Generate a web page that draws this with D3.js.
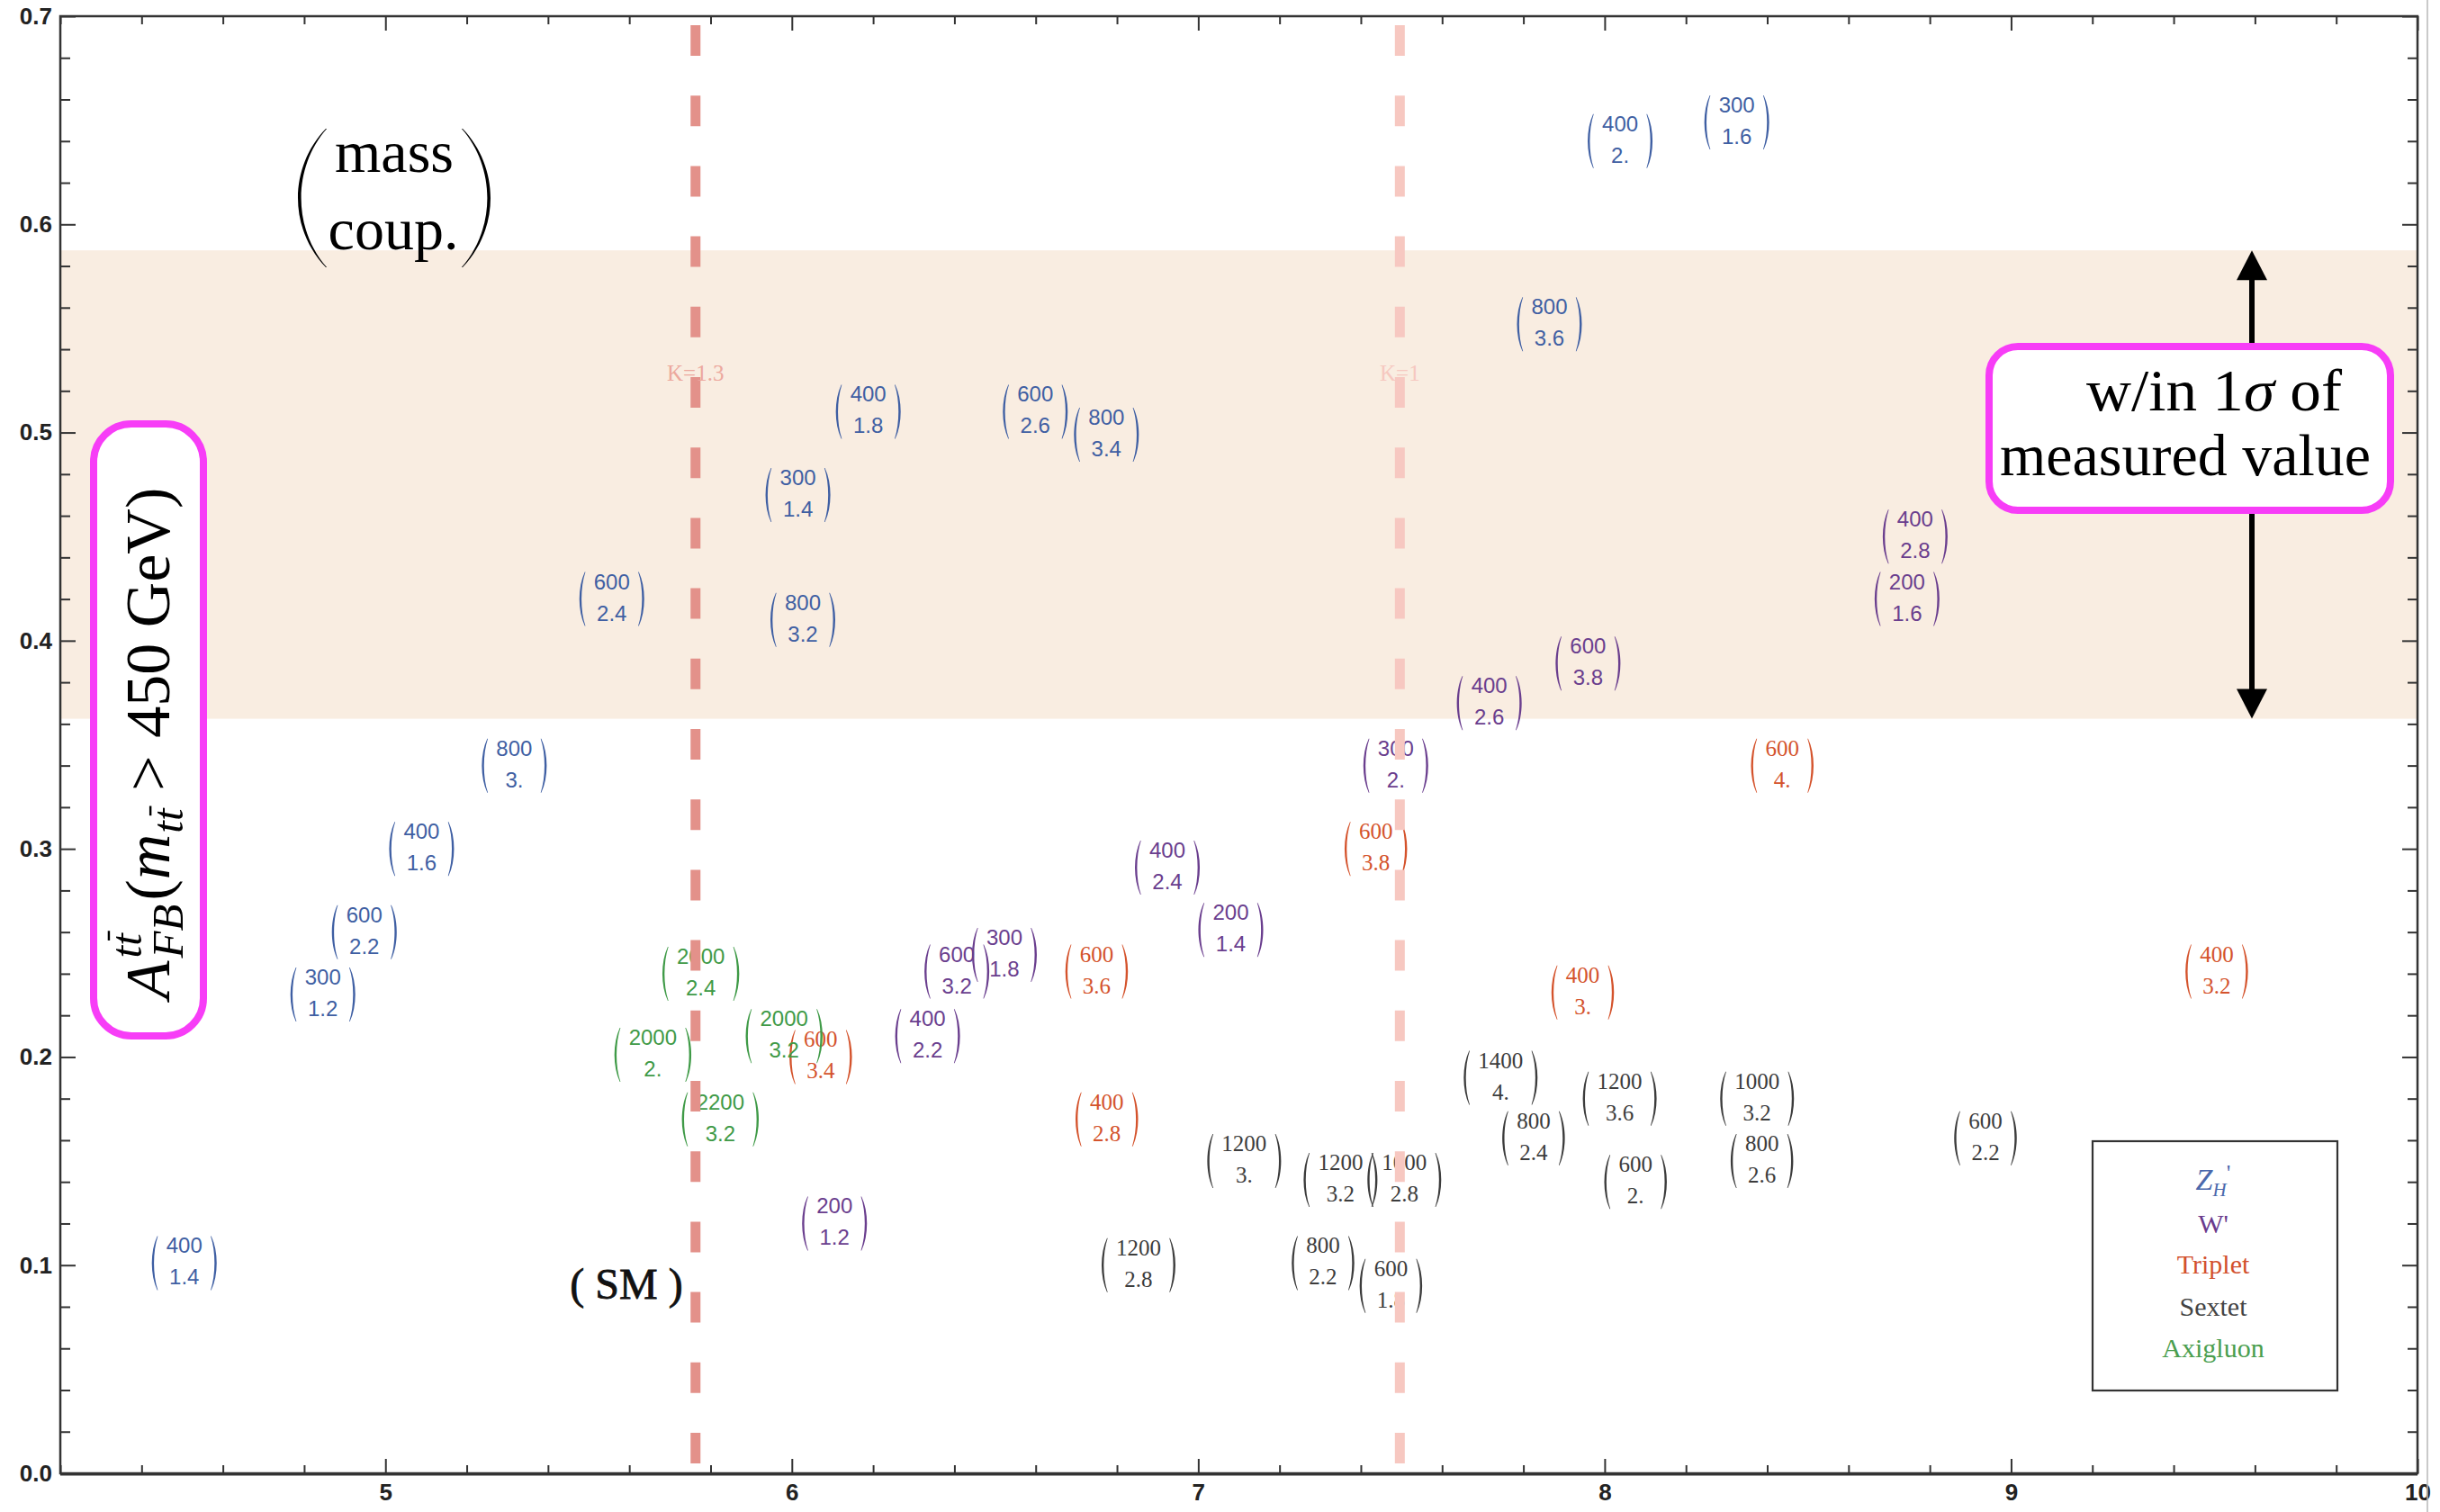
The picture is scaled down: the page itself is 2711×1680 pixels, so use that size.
<!DOCTYPE html>
<html><head><meta charset="utf-8">
<script src="https://cdn.jsdelivr.net/npm/d3@7/dist/d3.min.js"></script>
<style>body{margin:0;background:#fff}svg{display:block}</style>
</head><body>
<svg id="chart" width="2711" height="1680"></svg>
<script>
// ---------------- data ----------------
const categories = ["Z_H'", "W'", "Triplet", "Sextet", "Axigluon"];

// Z_H'
const zhMass = [400, 300, 800, 400, 600, 800, 300, 600, 800, 800, 400, 600, 300, 400];
const zhCoup = ["2.", "1.6", "3.6", "1.8", "2.6", "3.4", "1.4", "2.4", "3.2", "3.", "1.6", "2.2", "1.2", "1.4"];
const zhX = [8.038, 8.325, 7.864, 6.188, 6.599, 6.774, 6.015, 5.557, 6.027, 5.317, 5.089, 4.948, 4.846, 4.505];
const zhY = [0.640, 0.649, 0.552, 0.510, 0.510, 0.499, 0.470, 0.420, 0.410, 0.340, 0.300, 0.260, 0.230, 0.101];

// W'
const wMass = [400, 200, 600, 400, 300, 400, 200, 300, 600, 400, 200];
const wCoup = ["2.8", "1.6", "3.8", "2.6", "2.", "2.4", "1.4", "1.8", "3.2", "2.2", "1.2"];
const wX = [8.764, 8.744, 7.959, 7.716, 7.486, 6.924, 7.080, 6.523, 6.406, 6.334, 6.105];
const wY = [0.450, 0.420, 0.389, 0.370, 0.340, 0.291, 0.261, 0.249, 0.241, 0.210, 0.120];

// Triplet
const tMass = [600, 600, 600, 400, 400, 600, 400];
const tCoup = ["4.", "3.8", "3.6", "3.", "3.2", "3.4", "2.8"];
const tX = [8.437, 7.437, 6.750, 7.946, 9.506, 6.071, 6.775];
const tY = [0.340, 0.300, 0.241, 0.231, 0.241, 0.200, 0.170];

// Sextet
const sMass = [1400, 1200, 1000, 800, 600, 800, 600, 1200, 1200, 1000, 1200, 800, 600];
const sCoup = ["4.", "3.6", "3.2", "2.4", "2.2", "2.6", "2.", "3.", "3.2", "2.8", "2.8", "2.2", "1.8"];
const sX = [7.744, 8.037, 8.375, 7.825, 8.937, 8.387, 8.076, 7.113, 7.350, 7.507, 6.853, 7.307, 7.474];
const sY = [0.190, 0.180, 0.180, 0.161, 0.161, 0.150, 0.140, 0.150, 0.141, 0.141, 0.100, 0.101, 0.090];

// Axigluon
const aMass = [2000, 2000, 2000, 2200];
const aCoup = ["2.4", "2.", "3.2", "3.2"];
const aX = [5.776, 5.658, 5.981, 5.824];
const aY = [0.240, 0.201, 0.210, 0.170];

// band (within 1 sigma of measured value) and K-factor lines
const bandLow = 0.3625, bandHigh = 0.5875;
const kLineX = [5.763, 7.496];
const kLabels = ["K=1.3", "K=1"];
const kLabelY = 0.525;

// ticks
const xMajorTicks = [5, 6, 7, 8, 9, 10];
const xTickLabels = ["5", "6", "7", "8", "9", "10"];
const yMajorTicks = [0, 0.1, 0.2, 0.3, 0.4, 0.5, 0.6, 0.7];
const yTickLabels = ["0.0", "0.1", "0.2", "0.3", "0.4", "0.5", "0.6", "0.7"];

// ---------------- setup ----------------
const svg = d3.select("#chart");
const x = d3.scaleLinear().domain([4.2, 10]).range([67, 2686]);
const y = d3.scaleLinear().domain([0, 0.7]).range([1637, 18]);

const SERIF = "'Liberation Serif','Times New Roman',serif";
const SANS = "'Liberation Sans',Arial,sans-serif";

const seriesList = [
  {name: categories[0], mass: zhMass, coup: zhCoup, xs: zhX, ys: zhY, color: "#3f5fa3", font: SANS, size: 24},
  {name: categories[1], mass: wMass, coup: wCoup, xs: wX, ys: wY, color: "#6a3e8e", font: SANS, size: 24},
  {name: categories[2], mass: tMass, coup: tCoup, xs: tX, ys: tY, color: "#d4532c", font: SERIF, size: 25},
  {name: categories[3], mass: sMass, coup: sCoup, xs: sX, ys: sY, color: "#3c3c3c", font: SERIF, size: 25},
  {name: categories[4], mass: aMass, coup: aCoup, xs: aX, ys: aY, color: "#3f9a47", font: SANS, size: 24}
];

// crescent-shaped parenthesis path
function parenPath(xEnd, xMid, yTop, yBot, t, dir) {
  const h = yBot - yTop;
  const c1 = (xMid - 0.25 * xEnd) / 0.75;
  const xMidIn = xMid + dir * t;
  const xEndIn = xEnd + dir * t * 0.3;
  const c2 = (xMidIn - 0.25 * xEndIn) / 0.75;
  return `M${xEnd},${yTop} C${c1},${yTop + h * 0.28} ${c1},${yBot - h * 0.28} ${xEnd},${yBot} ` +
         `L${xEndIn},${yBot} C${c2},${yBot - h * 0.28} ${c2},${yTop + h * 0.28} ${xEndIn},${yTop} Z`;
}

// ---------------- band ----------------
svg.append("rect")
  .attr("x", x(4.2)).attr("width", x(10) - x(4.2))
  .attr("y", y(bandHigh)).attr("height", y(bandLow) - y(bandHigh))
  .attr("fill", "#f9ede1");

// ---------------- point labels (matrices) ----------------
seriesList.forEach(s => {
  const pts = s.mass.map((m, i) => ({m: String(m), c: s.coup[i], px: s.xs[i], py: s.ys[i]}));
  const g = svg.append("g").attr("class", "series");
  const lab = g.selectAll("g").data(pts).join("g")
    .attr("transform", d => `translate(${x(d.px)},${y(d.py)})`);
  lab.each(function(d) {
    const el = d3.select(this);
    const t1 = el.append("text").attr("y", -11).attr("text-anchor", "middle")
      .attr("font-family", s.font).attr("font-size", s.size).attr("fill", s.color).text(d.m);
    const t2 = el.append("text").attr("y", 24).attr("text-anchor", "middle")
      .attr("font-family", s.font).attr("font-size", s.size).attr("fill", s.color).text(d.c);
    const w = Math.max(t1.node().getComputedTextLength(), t2.node().getComputedTextLength());
    const off = w / 2 + 16;
    el.append("path").attr("d", parenPath(-off + 6, -off, -30, 30, 2.4, 1)).attr("fill", s.color);
    el.append("path").attr("d", parenPath(off - 6, off, -30, 30, 2.4, -1)).attr("fill", s.color);
  });
});

// ---------------- K lines ----------------
const kColors = ["#e3918a", "#f7c8c1"];
const kTextColors = ["#eca89e", "#f6c8c0"];
kLineX.forEach((kx, i) => {
  svg.append("line")
    .attr("x1", x(kx)).attr("x2", x(kx)).attr("y1", 28).attr("y2", y(0))
    .attr("stroke", kColors[i]).attr("stroke-width", 11)
    .attr("stroke-dasharray", "34,44.2");
  svg.append("text")
    .attr("x", x(kx)).attr("y", y(kLabelY)).attr("text-anchor", "middle")
    .attr("font-family", SERIF).attr("font-size", 25).attr("fill", kTextColors[i])
    .text(kLabels[i]);
});

// ---------------- axes ----------------
const xMinor = d3.range(21, 51).map(i => +(i / 5).toFixed(1)).filter(v => !xMajorTicks.includes(v));
const yMinor = d3.range(0, 36).map(i => +(i * 0.02).toFixed(2)).filter(v => Math.abs(v * 10 - Math.round(v * 10)) > 1e-6);

function styleAxis(g) {
  g.select(".domain").remove();
  g.selectAll(".tick line").attr("stroke", "#333").attr("stroke-width", 2);
  g.selectAll(".tick text").attr("font-family", SANS).attr("font-weight", "bold")
    .attr("font-size", 26).attr("fill", "#222");
}
const fmtX = d => xTickLabels[xMajorTicks.indexOf(d)];
const fmtY = d => yTickLabels[yMajorTicks.findIndex(v => Math.abs(v - d) < 1e-9)];

svg.append("g").attr("transform", `translate(0,${y(0)})`)
  .call(d3.axisBottom(x).tickValues(xMinor).tickSize(-9).tickFormat("")).call(styleAxis);
svg.append("g").attr("transform", `translate(0,${y(0)})`)
  .call(d3.axisBottom(x).tickValues(xMajorTicks).tickSize(-16).tickPadding(12).tickFormat(fmtX)).call(styleAxis);
svg.append("g").attr("transform", `translate(0,${y(0.7)})`)
  .call(d3.axisTop(x).tickValues(xMinor).tickSize(-9).tickFormat("")).call(styleAxis);
svg.append("g").attr("transform", `translate(0,${y(0.7)})`)
  .call(d3.axisTop(x).tickValues(xMajorTicks).tickSize(-16).tickFormat("")).call(styleAxis);
svg.append("g").attr("transform", `translate(${x(4.2)},0)`)
  .call(d3.axisLeft(y).tickValues(yMinor).tickSize(-11).tickFormat("")).call(styleAxis);
svg.append("g").attr("transform", `translate(${x(4.2)},0)`)
  .call(d3.axisLeft(y).tickValues(yMajorTicks).tickSize(-17).tickPadding(9).tickFormat(fmtY)).call(styleAxis);
svg.append("g").attr("transform", `translate(${x(10)},0)`)
  .call(d3.axisRight(y).tickValues(yMinor).tickSize(-11).tickFormat("")).call(styleAxis);
svg.append("g").attr("transform", `translate(${x(10)},0)`)
  .call(d3.axisRight(y).tickValues(yMajorTicks).tickSize(-17).tickFormat("")).call(styleAxis);

// frame
svg.append("rect").attr("x", x(4.2)).attr("y", y(0.7))
  .attr("width", x(10) - x(4.2)).attr("height", y(0) - y(0.7))
  .attr("fill", "none").attr("stroke", "#333").attr("stroke-width", 2.5);
svg.append("line").attr("x1", x(4.2)).attr("x2", x(10)).attr("y1", y(0) + 1).attr("y2", y(0) + 1)
  .attr("stroke", "#333").attr("stroke-width", 3);
svg.append("line").attr("x1", 2697).attr("x2", 2697).attr("y1", 0).attr("y2", 1680)
  .attr("stroke", "#b8b8b8").attr("stroke-width", 1.5);

// ---------------- legend ----------------
const legColors = ["#4a68ac", "#6a3a8c", "#d2502c", "#444444", "#4a9e4e"];
const legBaselines = [1322, 1370, 1415, 1462, 1508];
svg.append("rect").attr("x", 2325).attr("y", 1268).attr("width", 272).attr("height", 277)
  .attr("fill", "#fff").attr("stroke", "#333").attr("stroke-width", 2.2);
categories.forEach((c, i) => {
  const t = svg.append("text").attr("x", 2459).attr("y", legBaselines[i]).attr("text-anchor", "middle")
    .attr("font-family", SERIF).attr("font-size", 30).attr("fill", legColors[i]);
  if (i === 0) {
    t.append("tspan").attr("font-style", "italic").attr("font-size", 34).text("Z");
    t.append("tspan").attr("font-style", "italic").attr("font-size", 21).attr("dy", 7).text("H");
    t.append("tspan").attr("font-size", 26).attr("dy", -17).text("'");
  } else {
    t.text(c);
  }
});

// ---------------- annotations ----------------
// (mass / coup.)
svg.append("text").attr("x", 438).attr("y", 191).attr("text-anchor", "middle")
  .attr("font-family", SERIF).attr("font-size", 66).attr("fill", "#000").text("mass");
svg.append("text").attr("x", 437).attr("y", 277).attr("text-anchor", "middle")
  .attr("font-family", SERIF).attr("font-size", 66).attr("fill", "#000").text("coup.");
svg.append("path").attr("d", parenPath(362, 331, 143, 297, 3.6, 1)).attr("fill", "#000");
svg.append("path").attr("d", parenPath(514, 545, 143, 297, 3.6, -1)).attr("fill", "#000");

// (SM)
svg.append("text").attr("x", 696).attr("y", 1443).attr("text-anchor", "middle")
  .attr("font-family", SERIF).attr("font-size", 48).attr("fill", "#111")
  .attr("stroke", "#111").attr("stroke-width", 0.8).text("( SM )");

// double arrow
const arrowX = 2502;
svg.append("line").attr("x1", arrowX).attr("x2", arrowX).attr("y1", y(bandHigh) + 25).attr("y2", y(bandLow) - 25)
  .attr("stroke", "#000").attr("stroke-width", 6);
svg.append("path").attr("d", `M${arrowX},${y(bandHigh)} L${arrowX - 17},${y(bandHigh) + 33} L${arrowX + 17},${y(bandHigh) + 33} Z`).attr("fill", "#000");
svg.append("path").attr("d", `M${arrowX},${y(bandLow)} L${arrowX - 17},${y(bandLow) - 33} L${arrowX + 17},${y(bandLow) - 33} Z`).attr("fill", "#000");

// magenta box on the right
const MAG = "#f73df7";
svg.append("rect").attr("x", 2210).attr("y", 385).attr("width", 446).attr("height", 182)
  .attr("rx", 32).attr("ry", 32).attr("fill", "#fff").attr("stroke", MAG).attr("stroke-width", 8);
const r1 = svg.append("text").attr("x", 2318).attr("y", 456)
  .attr("font-family", SERIF).attr("font-size", 66).attr("fill", "#000")
  .attr("textLength", 284).attr("lengthAdjust", "spacingAndGlyphs");
r1.append("tspan").text("w/in 1");
r1.append("tspan").attr("font-style", "italic").text("σ");
r1.append("tspan").text(" of");
svg.append("text").attr("x", 2222).attr("y", 528)
  .attr("font-family", SERIF).attr("font-size", 66).attr("fill", "#000")
  .attr("textLength", 412).attr("lengthAdjust", "spacingAndGlyphs").text("measured value");

// y-axis label in magenta box
svg.append("rect").attr("x", 104).attr("y", 471).attr("width", 122).attr("height", 680)
  .attr("rx", 42).attr("ry", 42).attr("fill", "#fff").attr("stroke", MAG).attr("stroke-width", 8);

const outer = svg.append("g").attr("transform", "translate(188,826) rotate(-90)");
const inner = outer.append("g").attr("font-family", SERIF).attr("fill", "#000");
function addRun(str, x0, yb, size, italic, bars) {
  const t = inner.append("text").attr("x", x0).attr("y", yb).attr("font-size", size)
    .attr("font-style", italic ? "italic" : "normal").text(str);
  const w = t.node().getComputedTextLength();
  (bars || []).forEach(i => {
    const e = t.node().getExtentOfChar(i);
    inner.append("line").attr("x1", e.x + size * 0.12).attr("x2", e.x + e.width + size * 0.06)
      .attr("y1", yb - size * 0.74).attr("y2", yb - size * 0.74)
      .attr("stroke", "#000").attr("stroke-width", size * 0.05);
  });
  return w;
}
const S = 70, s = 49;
let cx = 0;
cx += addRun("A", cx, 0, S, true) + 3;
const wSup = addRun("tt", cx, -S * 0.44, s, true, [1]);
const wSub = addRun("FB", cx, S * 0.22, s, true);
cx += Math.max(wSup, wSub) + 4;
cx += addRun("(", cx, 0, S, false);
cx += addRun("m", cx, 0, S, true) + 1;
cx += addRun("tt", cx, S * 0.22, s, true, [1]) + S * 0.28;
cx += addRun(">", cx, 0, S, false) + S * 0.28;
cx += addRun("450 GeV)", cx, 0, S, false);
inner.attr("transform", `translate(${-cx / 2},0)`);
</script>
</body></html>
